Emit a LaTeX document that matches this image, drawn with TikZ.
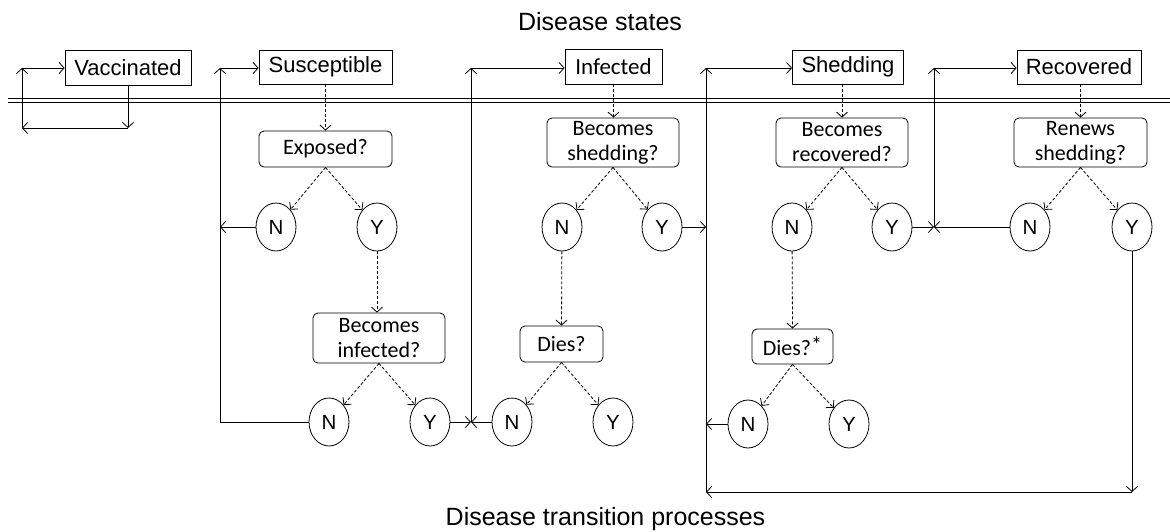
\documentclass[tikz,border=0pt]{standalone}
\usepackage{fontspec}
\setmainfont{Liberation Sans}
\newfontfamily\calfont{Carlito}
\usetikzlibrary{arrows.meta,shapes.geometric}
\tikzset{
  statebox/.style={draw, line width=0.8pt, inner sep=0pt, font=\fontsize{22}{25}\selectfont},
  qbox/.style={draw, line width=0.8pt, rounded corners=5pt, inner sep=0pt, align=center, font=\calfont\fontsize{22}{25}\selectfont},
  yn/.style={draw, ellipse, line width=0.8pt, minimum width=40pt, minimum height=48pt, inner sep=0pt, font=\fontsize{20.5}{22}\selectfont},
  flow/.style={line width=0.8pt, -{Straight Barb[length=5pt,width=11pt,line width=0.8pt]}},
  dflow/.style={flow, dash pattern=on 3pt off 2pt},
  plain/.style={line width=0.8pt},
  ttl/.style={font=\fontsize{25}{28}\selectfont, inner sep=0pt}
}
\begin{document}
\begin{tikzpicture}[x=1pt,y=-1pt]
\useasboundingbox (0,0) rectangle (1170,531);
% titles
\node[ttl] (top) at (600,22) {Disease states};
\node[ttl] (bot) at (605.5,519) {Disease transition processes};
% double line
\draw[line width=1.3pt] (8,98.5) -- (1170,98.5);
\draw[line width=1.3pt] (8,102.5) -- (1170,102.5);
% state boxes
\node[statebox, minimum width=126pt, minimum height=35pt] (vac) at (128,67.5) {Vaccinated};
\node[statebox, minimum width=133pt, minimum height=34pt] (sus) at (325.5,67) {Susceptible};
\node[statebox, minimum width=97pt, minimum height=35pt, font=\calfont\fontsize{23}{24}\selectfont] (inf) at (613.5,66.5) {Infected};
\node[statebox, minimum width=111pt, minimum height=34pt] (shed) at (848,67) {Shedding};
\node[statebox, minimum width=124pt, minimum height=34pt] (rec) at (1079,67) {Recovered};
% question boxes
\node[qbox, minimum width=133pt, minimum height=36pt] (exp) at (325.5,149) {Exposed?};
\node[qbox, minimum width=132pt, minimum height=49pt] (bshed) at (613,142.5) {Becomes\\shedding?};
\node[qbox, minimum width=132pt, minimum height=49pt] (brec) at (842,142.5) {Becomes\\recovered?};
\node[qbox, minimum width=133pt, minimum height=49pt] (renew) at (1080.5,142.5) {Renews\\shedding?};
\node[qbox, minimum width=132pt, minimum height=50pt] (binf) at (379,338) {Becomes\\infected?};
\node[qbox, minimum width=83pt, minimum height=36pt] (dies1) at (561.5,344) {Dies?};
\node[qbox, minimum width=81pt, minimum height=35pt] (dies2) at (792.5,346.5) {Dies?\raisebox{3pt}{*}};
% Y/N nodes
\node[yn] (n1) at (276,227) {N};
\node[yn] (y1) at (377,227) {Y};
\node[yn] (n2) at (329,422) {N};
\node[yn] (y2) at (430,422) {Y};
\node[yn] (n3) at (562,227) {N};
\node[yn] (y3) at (662,227) {Y};
\node[yn] (n4) at (512,422) {N};
\node[yn] (y4) at (613,422) {Y};
\node[yn] (n5) at (792,227) {N};
\node[yn] (y5) at (892,227) {Y};
\node[yn] (n6) at (1030,227) {N};
\node[yn] (y6) at (1132,227) {Y};
\node[yn] (n7) at (748,424) {N};
\node[yn] (y7) at (849,424) {Y};
% coordinates
\coordinate (va) at (128,128);
\coordinate (vb) at (22,128);
\coordinate (vc) at (22,68);
\coordinate (sa) at (220,422);
\coordinate (sb) at (220,227);
\coordinate (sc) at (220,68);
\coordinate (ia) at (471,422);
\coordinate (ic) at (471,68);
\coordinate (ha) at (706,492);
\coordinate (hb) at (706,227);
\coordinate (hd) at (706,424);
\coordinate (hc) at (706,68);
\coordinate (ra) at (934,227);
\coordinate (rc) at (934,68);
\coordinate (ya) at (1132,492);
% vaccinated loop
\draw[flow] (vac.south) -- (va);
\draw[flow] (va) -- (vb);
\draw[flow] (vb) -- (vc);
\draw[flow] (vc) -- (vc -| vac.west);
% susceptible loop
\draw[flow] (n1) -- (sb);
\draw[plain] (n2) -- (sa);
\draw[flow] (sa) -- (sc);
\draw[flow] (sc) -- (sc -| sus.west);
% infected loop
\draw[flow] (y2) -- (ia);
\draw[flow] (n4) -- (ia);
\draw[flow] (ia) -- (ic);
\draw[flow] (ic) -- (ic -| inf.west);
% shedding loop
\draw[flow] (y3) -- (hb);
\draw[flow] (n7) -- (hd);
\draw[flow] (y6) -- (ya);
\draw[flow] (ya) -- (ha);
\draw[flow] (ha) -- (hc);
\draw[flow] (hc) -- (hc -| shed.west);
% recovered loop
\draw[flow] (y5) -- (ra);
\draw[flow] (n6) -- (ra);
\draw[flow] (ra) -- (rc);
\draw[flow] (rc) -- (rc -| rec.west);
% dashed process arrows
\draw[dflow] (sus.south) -- (exp.north);
\draw[dflow] (exp.south) -- (n1);
\draw[dflow] (exp.south) -- (y1);
\draw[dflow] (y1) -- (y1 |- binf.north);
\draw[dflow] (binf.south) -- (n2);
\draw[dflow] (binf.south) -- (y2);
\draw[dflow] (inf.south) -- (inf.south |- bshed.north);
\draw[dflow] (bshed.south) -- (n3);
\draw[dflow] (bshed.south) -- (y3);
\draw[dflow] (n3) -- (dies1.north);
\draw[dflow] (dies1.south) -- (n4);
\draw[dflow] (dies1.south) -- (y4);
\draw[dflow] (brec.north |- shed.south) -- (brec.north);
\draw[dflow] (brec.south) -- (n5);
\draw[dflow] (brec.south) -- (y5);
\draw[dflow] (n5) -- (dies2.north);
\draw[dflow] (dies2.south) -- (n7);
\draw[dflow] (dies2.south) -- (y7);
\draw[dflow] (renew.north |- rec.south) -- (renew.north);
\draw[dflow] (renew.south) -- (n6);
\draw[dflow] (renew.south) -- (y6);
\end{tikzpicture}
\end{document}
